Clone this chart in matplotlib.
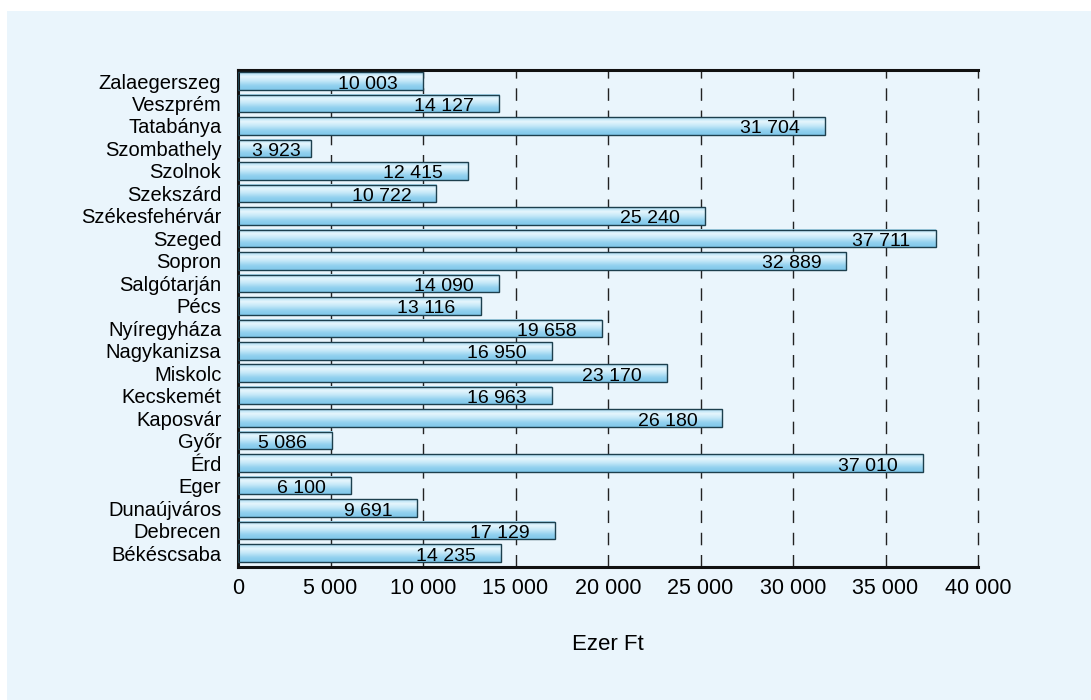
import numpy as np
import matplotlib.pyplot as plt
from matplotlib.patches import Rectangle
from matplotlib.colors import LinearSegmentedColormap
from matplotlib.ticker import FuncFormatter, MultipleLocator

# data (bottom to top)
cities = ['Békéscsaba', 'Debrecen', 'Dunaújváros', 'Eger', 'Érd', 'Győr',
          'Kaposvár', 'Kecskemét', 'Miskolc', 'Nagykanizsa', 'Nyíregyháza',
          'Pécs', 'Salgótarján', 'Sopron', 'Szeged', 'Székesfehérvár',
          'Szekszárd', 'Szolnok', 'Szombathely', 'Tatabánya', 'Veszprém',
          'Zalaegerszeg']
values = [14235, 17129, 9691, 6100, 37010, 5086,
          26180, 16963, 23170, 16950, 19658,
          13116, 14090, 32889, 37711, 25240,
          10722, 12415, 3923, 31704, 14127,
          10003]

bg = '#eaf5fc'
plt.rcParams['font.family'] = ['Liberation Sans', 'DejaVu Sans']

def fmt(v):
    return f'{int(v):,}'.replace(',', ' ')

fig = plt.figure(figsize=(10.91, 7), dpi=100, facecolor='white')
fig.patches.append(Rectangle((7/1091, 0), 1, 1 - 11/700, transform=fig.transFigure,
                             facecolor=bg, edgecolor='none', zorder=-10))
ax = fig.add_axes([238/1091, 1 - 567/700, 740/1091, 497/700])
ax.set_facecolor(bg)

y = np.arange(len(cities))
h = 0.78
grad = LinearSegmentedColormap.from_list('g', ['#a8dcf3', '#e6f6fd', '#c2e7f8', '#93d1ef', '#7fc7ea'])
img = np.linspace(0, 1, 64).reshape(-1, 1)

bars = ax.barh(y, values, height=h, facecolor='none', edgecolor='#1d3f4d', linewidth=1.0, zorder=3)
for b in bars:
    x0, y0 = b.get_x(), b.get_y()
    ax.imshow(img, cmap=grad, aspect='auto', origin='upper', zorder=2,
              extent=[x0, x0 + b.get_width(), y0, y0 + b.get_height()])

# value labels
for yi, v in zip(y, values):
    if v < 5000:
        ax.annotate(fmt(v), (0, yi), xytext=(14, -3), textcoords='offset pixels',
                    ha='left', va='center', fontsize=14, zorder=4)
    else:
        ax.annotate(fmt(v), (v, yi), xytext=(-25, -3), textcoords='offset pixels',
                    ha='right', va='center', fontsize=14, zorder=4)

ax.set_xlim(0, 40000)
ax.set_ylim(-0.62, len(cities) - 0.51)
ax.set_yticks(y)
ax.set_yticklabels(cities, fontsize=14.5)
ax.xaxis.set_major_locator(MultipleLocator(5000))
ax.xaxis.set_major_formatter(FuncFormatter(lambda v, p: fmt(v)))
ax.tick_params(axis='x', labelsize=15.5, length=0, pad=8)
ax.tick_params(axis='y', length=0, pad=12)
ax.grid(axis='x', color='#222222', linestyle=(0, (9, 7)), linewidth=1.0, zorder=1)
for gl in ax.get_xgridlines():
    gl.set_clip_on(False)
ax.set_axisbelow(True)

for s in ['top', 'bottom', 'left']:
    ax.spines[s].set_linewidth(2.2)
    ax.spines[s].set_color('#111111')
ax.spines['right'].set_visible(False)

ax.set_xlabel('Ezer Ft', fontsize=16, labelpad=25)

fig.savefig('out.png', dpi=100, facecolor=fig.get_facecolor())
